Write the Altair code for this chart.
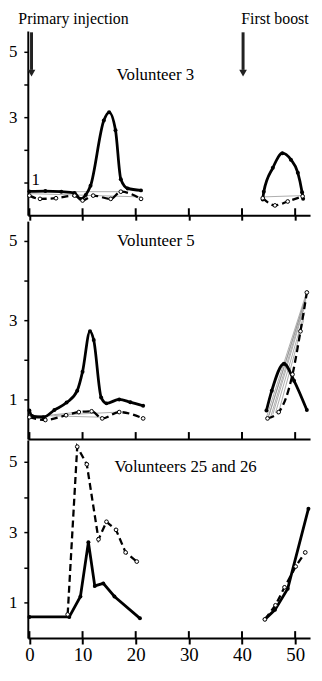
import altair as alt
import pandas as pd

FONT = "Liberation Serif"

# ---------------- data (days after primary injection, response value) -------------
x_ticks = [0, 10, 20, 30, 40, 50]

# Volunteer 3
v3_solid_a_day = [0, 3, 6, 8.5, 9.6, 10.6, 11.5, 14, 15, 16.2, 17.2, 18.5, 21]
v3_solid_a_val = [0.73, 0.74, 0.72, 0.68, 0.5, 0.62, 0.9, 2.9, 3.15, 2.6, 1.1, 0.82, 0.76]
v3_dash_a_day = [0, 2, 5, 8.5, 10, 12, 15.3, 17.2, 21]
v3_dash_a_val = [0.6, 0.5, 0.52, 0.6, 0.45, 0.6, 0.5, 0.72, 0.5]
v3_solid_b_day = [43.9, 44.1, 45.8, 47.6, 49.2, 50.5, 51.3, 51.5]
v3_solid_b_val = [0.48, 0.72, 1.45, 1.9, 1.7, 1.3, 0.7, 0.5]
v3_dash_b_day = [43.9, 46.2, 48.6, 51.4]
v3_dash_b_val = [0.52, 0.3, 0.42, 0.58]
v3_gray = [([0, 17.2], [0.72, 0.72]), ([0, 21], [0.66, 0.56]), ([43.9, 51.4], [0.56, 0.6])]

# Volunteer 5
v5_solid_a_day = [0, 0.5, 2.6, 4.7, 7, 9, 10, 11.4, 12.1, 13.5, 14.5, 16.9, 19, 21.4]
v5_solid_a_val = [0.72, 0.58, 0.55, 0.73, 0.92, 1.22, 1.7, 2.72, 2.5, 1.05, 0.9, 1.0, 0.93, 0.84]
v5_dash_a_day = [0, 3, 6.9, 9.3, 11.7, 13.7, 16.9, 21.4]
v5_dash_a_val = [0.55, 0.48, 0.6, 0.68, 0.7, 0.52, 0.68, 0.52]
v5_solid_b_day = [44.6, 45.6, 47.9, 49.8, 52.2]
v5_solid_b_val = [0.72, 1.22, 1.9, 1.47, 0.73]
v5_dash_b_day = [44.8, 46.9, 49.5, 51, 52.2]
v5_dash_b_val = [0.52, 0.68, 1.63, 2.72, 3.7]
v5_gray = [([0, 9.3], [0.55, 0.68]), ([0, 13.7], [0.6, 0.55]), ([4.7, 16.9], [0.6, 0.68]),
           ([44.6, 52.2], [0.55, 3.72]), ([44.8, 52.2], [0.5, 3.66]), ([45.1, 52.1], [0.6, 3.6]),
           ([45.4, 52.0], [0.56, 3.5]), ([45.8, 51.9], [0.62, 3.4]), ([46.3, 51.8], [0.66, 3.2]),
           ([46.9, 51.6], [0.68, 3.0])]

# Volunteers 25 and 26
v25_solid_a_day = [0, 7.5, 9.6, 11.1, 12.3, 13.9, 16, 20.8]
v25_solid_a_val = [0.6, 0.6, 1.18, 2.72, 1.48, 1.55, 1.18, 0.56]
v25_dash_a_day = [7.2, 9, 10.8, 13, 14.5, 16.3, 18.1, 20.2]
v25_dash_a_val = [0.67, 5.43, 4.93, 2.8, 3.3, 3.07, 2.43, 2.17]
v25_solid_b_day = [44.3, 46.2, 48.6, 52.5]
v25_solid_b_val = [0.53, 0.8, 1.4, 3.67]
v25_dash_b_day = [44.3, 46.3, 48, 50.1, 51.9]
v25_dash_b_val = [0.53, 0.93, 1.44, 2.03, 2.43]
v25_gray = []


def seg_df(segments):
    rows = []
    for sid, (days, vals) in enumerate(segments):
        for d, v in zip(days, vals):
            rows.append({"day": d, "val": v, "seg": sid})
    if not rows:
        rows = [{"day": None, "val": None, "seg": 0}]
    return pd.DataFrame(rows)


XSCALE = alt.Scale(domain=[-0.3, 52.8], nice=False, zero=False)
WIDTH = 285


def panel(height, ymax, solid, dashed, gray, interp, label_vals, bottom, title, tday, tval,
          tsize=17, extra=None):
    if bottom:
        xaxis = alt.Axis(values=x_ticks, labelFontSize=19, tickSize=6, labelPadding=2,
                         domainWidth=2, tickWidth=2, grid=False, title=None, labelFont=FONT)
    else:
        xaxis = alt.Axis(values=x_ticks, labels=False, ticks=(height < 200), tickSize=5,
                         tickWidth=2, domainWidth=2, grid=False, title=None)
    lab = " || ".join(f"datum.value == {v}" for v in label_vals)
    yaxis = alt.Axis(values=[1, 2, 3, 4, 5], labelExpr=f"({lab}) ? datum.label : ''",
                     labelFontSize=17, tickSize=4, labelPadding=7, domainWidth=2,
                     tickWidth=1.5, grid=False, title=None, labelFont=FONT)
    X = alt.X("day:Q", scale=XSCALE, axis=xaxis)
    Y = alt.Y("val:Q", scale=alt.Scale(domain=[0, ymax], nice=False, zero=True), axis=yaxis)

    sdf = seg_df(solid)
    ddf = seg_df(dashed)
    gdf = seg_df(gray)

    layers = [
        alt.Chart(gdf).mark_line(color="#8a8a8a", strokeWidth=0.7).encode(x=X, y=Y, detail="seg:N"),
        alt.Chart(ddf).mark_line(color="black", strokeWidth=2.3, strokeDash=[7, 4],
                                 interpolate=interp).encode(x=X, y=Y, detail="seg:N"),
        alt.Chart(sdf).mark_line(color="black", strokeWidth=2.8,
                                 interpolate=interp).encode(x=X, y=Y, detail="seg:N"),
        alt.Chart(sdf).mark_circle(color="black", size=16, opacity=1).encode(x=X, y=Y),
        alt.Chart(ddf).mark_point(shape="circle", filled=True, fill="white", stroke="black",
                                  strokeWidth=1, size=14, opacity=1).encode(x=X, y=Y),
        alt.Chart(pd.DataFrame({"day": x_ticks})).mark_rule(color="black", strokeWidth=2).encode(
            x=X, y=alt.value(height), y2=alt.value(height - 7)),
        alt.Chart(pd.DataFrame({"t": [title]})).mark_text(
            font=FONT, fontSize=tsize, color="black").encode(
            x=alt.datum(tday), y=alt.datum(tval), text="t:N"),
    ]
    if extra:
        layers += extra(X, Y)
    return alt.layer(*layers).properties(width=WIDTH, height=height)


def p1_extra(X, Y):
    arrows = pd.DataFrame({"day": [0.4, 40.2]})
    return [
        alt.Chart(arrows).mark_rule(color="#222", strokeWidth=3).encode(
            x=X, y=alt.datum(5.6), y2=alt.datum(4.45)),
        alt.Chart(arrows).mark_point(shape="triangle-down", filled=True, color="#222",
                                     size=60, opacity=1).encode(x=X, y=alt.datum(4.35)),
        alt.Chart(pd.DataFrame({"t": ["Primary injection"]})).mark_text(
            font=FONT, fontSize=16, color="black").encode(
            x=alt.datum(8.3), y=alt.value(-12), text="t:N"),
        alt.Chart(pd.DataFrame({"t": ["First boost"]})).mark_text(
            font=FONT, fontSize=16, color="black").encode(
            x=alt.datum(46.2), y=alt.value(-12), text="t:N"),
        alt.Chart(pd.DataFrame({"t": ["1"]})).mark_text(
            font=FONT, fontSize=17, color="black").encode(
            x=alt.datum(1.2), y=alt.datum(1.08), text="t:N"),
    ]


p1 = panel(186, 5.64,
           [(v3_solid_a_day, v3_solid_a_val), (v3_solid_b_day, v3_solid_b_val)],
           [(v3_dash_a_day, v3_dash_a_val), (v3_dash_b_day, v3_dash_b_val)],
           v3_gray, "monotone", [5, 3], False, "Volunteer 3", 23.7, 4.3, extra=p1_extra)
p2 = panel(220, 5.5,
           [(v5_solid_a_day, v5_solid_a_val), (v5_solid_b_day, v5_solid_b_val)],
           [(v5_dash_a_day, v5_dash_a_val), (v5_dash_b_day, v5_dash_b_val)],
           v5_gray, "monotone", [5, 3, 1], False, "Volunteer 5", 23.8, 5.0)
p3 = panel(200, 5.62,
           [(v25_solid_a_day, v25_solid_a_val), (v25_solid_b_day, v25_solid_b_val)],
           [(v25_dash_a_day, v25_dash_a_val), (v25_dash_b_day, v25_dash_b_val)],
           v25_gray, "linear", [5, 3, 1], True, "Volunteers 25 and 26", 29.4, 4.86)

chart = alt.vconcat(p1, p2, p3, spacing=0).properties(
    padding={"left": 0, "top": 0, "right": 0, "bottom": 0}
).configure_view(stroke=None).configure_axis(
    domainColor="black", tickColor="black", labelColor="black"
)

chart.save("out.html", embed_options={"renderer": "svg", "actions": False})
